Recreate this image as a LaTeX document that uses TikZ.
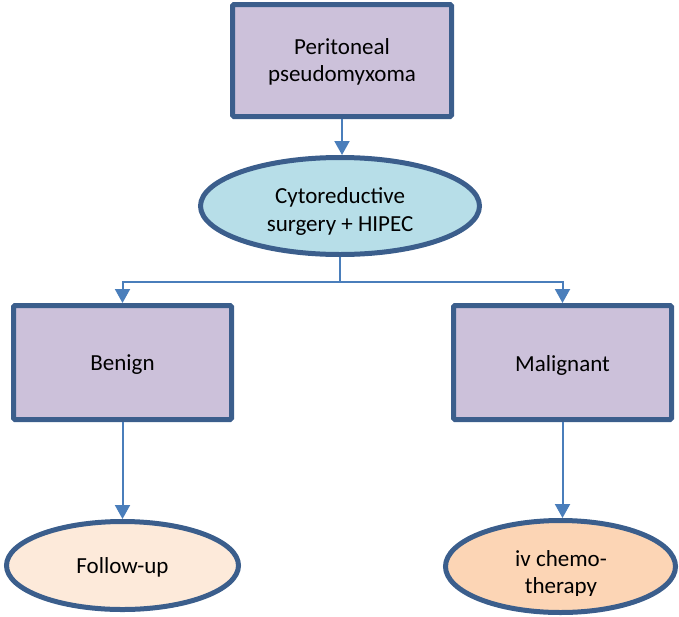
\documentclass[tikz,border=0pt]{standalone}
\usepackage{fontspec}
\setmainfont{Carlito}
\usetikzlibrary{shapes.geometric,arrows.meta}
\definecolor{boxfill}{HTML}{CCC1DA}
\definecolor{edge}{HTML}{3B5E8C}
\definecolor{ellblue}{HTML}{B7DEE8}
\definecolor{ellpeach}{HTML}{FDEADA}
\definecolor{ellorange}{HTML}{FCD5B5}
\definecolor{conn}{HTML}{4A7EBB}
\tikzset{
  rbox/.style={draw=edge, line width=5pt, fill=boxfill, rounded corners=1.5pt, inner sep=0pt},
  oval/.style={ellipse, draw=edge, line width=5pt, inner sep=0pt},
  txt/.style={align=center, font=\fontsize{23}{27.5}\selectfont, text=black, inner sep=0pt},
  plainline/.style={draw=conn, line width=2pt},
  conline/.style={plainline, -{Triangle[width=15pt,length=14pt]}},
}
\begin{document}
\begin{tikzpicture}[x=1pt,y=-1pt]
\useasboundingbox (0,0) rectangle (679,616);
\clip (0,0) rectangle (679,616);
% shapes
\node[rbox, minimum width=219pt, minimum height=112pt] (top) at (342,60.5) {};
\node[txt] (toptxt) at (342,62) {Peritoneal\\pseudomyxoma};
\node[oval, fill=ellblue, minimum width=279pt, minimum height=97pt] (crs) at (340,206) {};
\begin{scope}
  \clip (190,150) rectangle (490,234);
  \node[txt] (crstxt) at (340,211.5) {Cytoreductive\\surgery + HIPEC};
\end{scope}
\node[rbox, minimum width=218pt, minimum height=114pt] (benign) at (122.5,362.5) {};
\node[txt] (benigntxt) at (122.5,365) {Benign};
\node[rbox, minimum width=218pt, minimum height=114pt] (malig) at (562.5,362.5) {};
\node[txt] (maligtxt) at (562.5,365) {Malignant};
\node[oval, fill=ellpeach, minimum width=232pt, minimum height=88pt] (follow) at (122.5,565.5) {};
\node[txt] (followtxt) at (122.5,567) {Follow-up};
\node[oval, fill=ellorange, minimum width=230pt, minimum height=92pt] (chemo) at (560.5,566.5) {};
\begin{scope}
  \clip (440,500) rectangle (679,595);
  \node[txt] (chemotxt) at (561,574) {iv chemo-\\therapy};
\end{scope}
% connectors
\coordinate (j) at (340,282);
\draw[conline] (top.south) -- (top.south |- crs.north);
\draw[plainline] (crs.south) -- (j);
\draw[conline] (j) -| (benign.north);
\draw[conline] (j) -| (malig.north);
\draw[conline] (benign.south) -- (follow.north);
\draw[conline] (malig.south) -- (malig.south |- chemo.north);
\end{tikzpicture}
\end{document}
